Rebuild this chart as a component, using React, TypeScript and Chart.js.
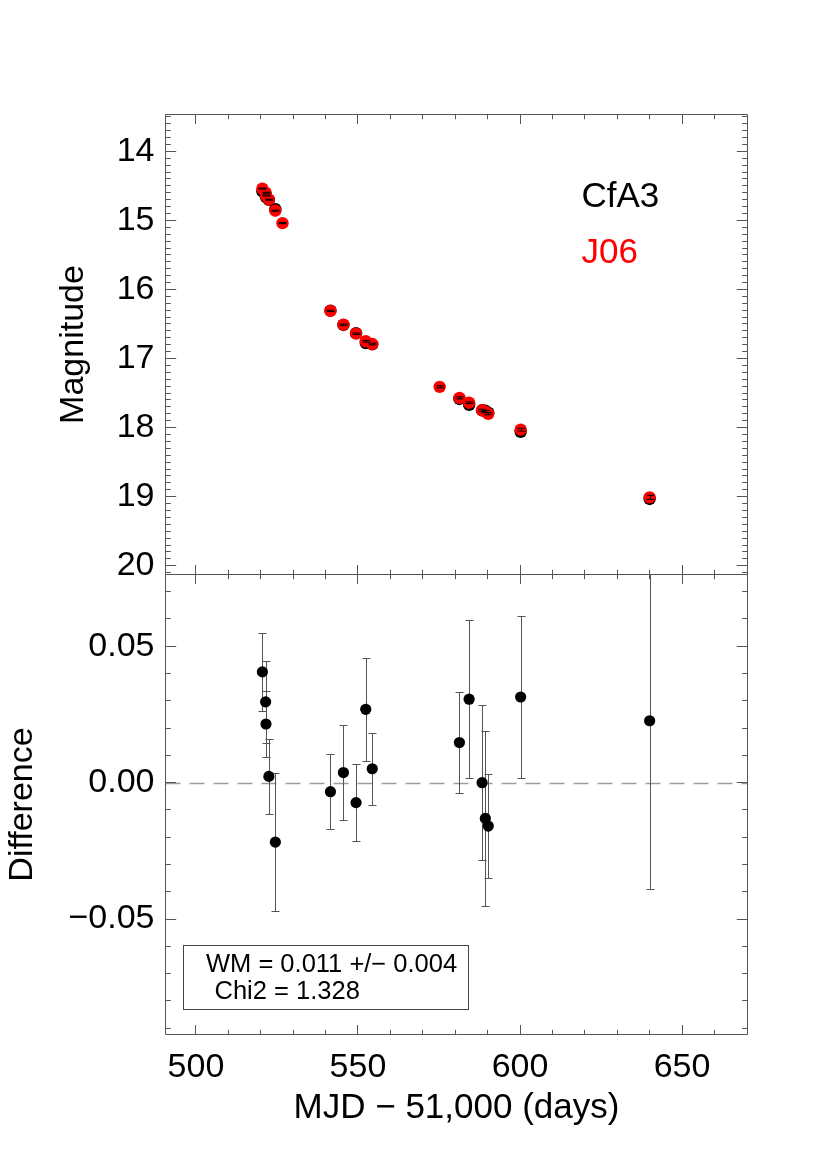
import React, { useEffect, useRef } from 'react';
import { Chart, registerables } from 'chart.js';

Chart.register(...registerables);

const FONT = '"Liberation Sans", Arial, Helvetica, sans-serif';
const AXIS_COLOR = '#555555';

// ---------- data ----------
const j06Mjd = [520.5, 521.5, 521.6, 522.5, 524.5, 526.7, 541.5, 545.5, 549.4, 552.4, 554.4, 575.2, 581.3, 584.3, 588.3, 589.3, 590.2, 600.2, 640.0];
const j06Mag = [14.54, 14.60, 14.64, 14.70, 14.86, 15.04, 16.31, 16.51, 16.64, 16.75, 16.79, 17.41, 17.57, 17.64, 17.75, 17.77, 17.80, 18.03, 19.01];
const j06Err = [0.008, 0.008, 0.008, 0.008, 0.008, 0.008, 0.010, 0.010, 0.010, 0.012, 0.012, 0.015, 0.015, 0.012, 0.015, 0.015, 0.015, 0.020, 0.030];

const cfa3Mjd = [520.5, 521.5, 521.6, 522.5, 524.5, 541.5, 545.5, 549.4, 552.4, 554.4, 581.3, 584.3, 588.3, 589.3, 590.2, 600.2, 640.0];
const cfa3Mag = [14.581, 14.630, 14.662, 14.702, 14.838, 16.307, 16.514, 16.633, 16.777, 16.795, 17.585, 17.671, 17.750, 17.757, 17.784, 18.061, 19.033];

const diffVal = [0.0406, 0.0296, 0.0215, 0.0023, -0.0218, -0.0033, 0.0037, -0.0073, 0.0269, 0.0051, 0.0147, 0.0306, 0.0000, -0.0131, -0.0159, 0.0314, 0.0227];
const diffErr = [0.0143, 0.0150, 0.0121, 0.0138, 0.0252, 0.0138, 0.0174, 0.0142, 0.0188, 0.0132, 0.0185, 0.0289, 0.0285, 0.0320, 0.0189, 0.0298, 0.0618];

const xTickValues = [500, 550, 600, 650];
const magTickValues = [14, 15, 16, 17, 18, 19, 20];
const diffTickValues = [-0.05, 0, 0.05];
const legendLabels = ['CfA3', 'J06'];
const legendColors = ['#000000', '#ff0000'];
const statsLines = ['WM = 0.011 +/\u2212 0.004', 'Chi2 = 1.328'];
const xTitle = 'MJD \u2212 51,000 (days)';

// ---------- helpers ----------
const X_MIN = 490.6;
const X_MAX = 670.2;

function fmtDiff(v: number) {
  if (Math.abs(v) < 1e-9) return '0.00';
  return (v < 0 ? '\u2212' : '') + Math.abs(v).toFixed(2);
}

function isMultiple(v: number, step: number) {
  const r = v / step;
  return Math.abs(r - Math.round(r)) < 1e-6;
}

function frameTicksPlugin(xMinor: number, xMajor: number, yMinor: number, yMajor: number) {
  return {
    id: 'frameTicks',
    afterDraw(chart: any) {
      const { ctx, chartArea: a, scales } = chart;
      const xs = scales.x;
      const ys = scales.y;
      ctx.save();
      ctx.strokeStyle = AXIS_COLOR;
      ctx.lineWidth = 1;
      ctx.beginPath();
      ctx.rect(a.left, a.top, a.right - a.left, a.bottom - a.top);
      ctx.stroke();
      ctx.beginPath();
      const x0 = Math.ceil(xs.min / xMinor - 1e-9);
      for (let i = x0; i * xMinor <= xs.max + 1e-9; i++) {
        const v = i * xMinor;
        const p = Math.floor(xs.getPixelForValue(v)) + 0.5;
        if (p <= a.left + 1 || p >= a.right - 1) continue;
        const len = isMultiple(v, xMajor) ? 9.5 : 4.7;
        ctx.moveTo(p, a.top);
        ctx.lineTo(p, a.top + len);
        ctx.moveTo(p, a.bottom);
        ctx.lineTo(p, a.bottom - len);
      }
      const y0 = Math.ceil(ys.min / yMinor - 1e-9);
      for (let i = y0; i * yMinor <= ys.max + 1e-9; i++) {
        const v = i * yMinor;
        const p = Math.floor(ys.getPixelForValue(v)) + 0.5;
        if (p <= a.top + 1 || p >= a.bottom - 1) continue;
        const len = isMultiple(v, yMajor) ? 10.7 : 5.3;
        ctx.moveTo(a.left, p);
        ctx.lineTo(a.left + len, p);
        ctx.moveTo(a.right, p);
        ctx.lineTo(a.right - len, p);
      }
      ctx.stroke();
      ctx.restore();
    },
  };
}

const topDecorPlugin = {
  id: 'topDecor',
  afterDatasetsDraw(chart: any) {
    const { ctx, chartArea: a, scales } = chart;
    const xs = scales.x;
    const ys = scales.y;
    ctx.save();
    ctx.beginPath();
    ctx.rect(a.left, a.top, a.right - a.left, a.bottom - a.top);
    ctx.clip();
    ctx.strokeStyle = '#000000';
    ctx.lineWidth = 1;
    ctx.beginPath();
    for (let i = 0; i < j06Mjd.length; i++) {
      const x = Math.round(xs.getPixelForValue(j06Mjd[i])) + 0.5;
      const yA = ys.getPixelForValue(j06Mag[i] - j06Err[i]);
      const yB = ys.getPixelForValue(j06Mag[i] + j06Err[i]);
      ctx.moveTo(x, yA);
      ctx.lineTo(x, yB);
      ctx.moveTo(x - 4, yA);
      ctx.lineTo(x + 4, yA);
      ctx.moveTo(x - 4, yB);
      ctx.lineTo(x + 4, yB);
    }
    ctx.stroke();
    ctx.restore();
  },
  afterDraw(chart: any) {
    const { ctx, chartArea: a } = chart;
    ctx.save();
    ctx.font = `35px ${FONT}`;
    ctx.textAlign = 'left';
    ctx.textBaseline = 'alphabetic';
    ctx.fillStyle = legendColors[0];
    ctx.fillText(legendLabels[0], a.left + 416, a.top + 92);
    ctx.fillStyle = legendColors[1];
    ctx.fillText(legendLabels[1], a.left + 416, a.top + 148);
    ctx.restore();
  },
};

const bottomDecorPlugin = {
  id: 'bottomDecor',
  beforeDatasetsDraw(chart: any) {
    const { ctx, chartArea: a, scales } = chart;
    const xs = scales.x;
    const ys = scales.y;
    ctx.save();
    ctx.beginPath();
    ctx.rect(a.left, a.top, a.right - a.left, a.bottom - a.top);
    ctx.clip();
    // zero line
    const y0 = Math.round(ys.getPixelForValue(0)) + 0.5;
    ctx.strokeStyle = '#9a9a9a';
    ctx.lineWidth = 1.6;
    ctx.setLineDash([15, 9]);
    ctx.beginPath();
    ctx.moveTo(a.left, y0);
    ctx.lineTo(a.right, y0);
    ctx.stroke();
    ctx.setLineDash([]);
    // error bars
    ctx.strokeStyle = '#555555';
    ctx.lineWidth = 1;
    ctx.beginPath();
    for (let i = 0; i < cfa3Mjd.length; i++) {
      const x = Math.round(xs.getPixelForValue(cfa3Mjd[i])) + 0.5;
      const yA = Math.round(ys.getPixelForValue(diffVal[i] + diffErr[i])) + 0.5;
      const yB = Math.round(ys.getPixelForValue(diffVal[i] - diffErr[i])) + 0.5;
      ctx.moveTo(x, yA);
      ctx.lineTo(x, yB);
      ctx.moveTo(x - 4, yA);
      ctx.lineTo(x + 4, yA);
      ctx.moveTo(x - 4, yB);
      ctx.lineTo(x + 4, yB);
    }
    ctx.stroke();
    ctx.restore();
  },
  afterDraw(chart: any) {
    const { ctx, chartArea: a } = chart;
    ctx.save();
    const bx = Math.round(a.left + 17) + 0.5;
    const by = Math.round(a.bottom - 89.5) + 0.5;
    ctx.strokeStyle = '#444444';
    ctx.lineWidth = 1;
    ctx.strokeRect(bx, by, 285, 64);
    ctx.fillStyle = '#000000';
    ctx.font = `25.5px ${FONT}`;
    ctx.textAlign = 'left';
    ctx.textBaseline = 'alphabetic';
    ctx.fillText(statsLines[0], a.left + 40.5, a.bottom - 62.5);
    ctx.fillText(statsLines[1], a.left + 49, a.bottom - 36);
    ctx.restore();
  },
};

function TwoPanelChart() {
  const topRef = useRef<HTMLCanvasElement | null>(null);
  const botRef = useRef<HTMLCanvasElement | null>(null);

  useEffect(() => {
    if (!topRef.current || !botRef.current) return;

    const tickFont = { size: 34, family: FONT };
    const yTitleFont = { size: 34, family: FONT };
    const xTitleFont = { size: 35, family: FONT };

    const topChart = new Chart(topRef.current, {
      type: 'scatter',
      data: {
        datasets: [
          {
            label: 'J06',
            data: j06Mjd.map((x, i) => ({ x, y: j06Mag[i] })),
            backgroundColor: '#ff0000',
            borderColor: '#ff0000',
            borderWidth: 0,
            pointRadius: 6.2,
            order: 0,
          },
          {
            label: 'CfA3',
            data: cfa3Mjd.map((x, i) => ({ x, y: cfa3Mag[i] })),
            backgroundColor: '#000000',
            borderColor: '#000000',
            borderWidth: 0,
            pointRadius: 6.2,
            order: 1,
          },
        ],
      },
      options: {
        animation: false,
        responsive: false,
        devicePixelRatio: 1,
        events: [],
        layout: { padding: { left: 0, right: 82.5, top: 114.5, bottom: 575.5 } },
        plugins: { legend: { display: false }, tooltip: { enabled: false } },
        scales: {
          x: {
            type: 'linear',
            min: X_MIN,
            max: X_MAX,
            grid: { display: false, drawTicks: false },
            border: { display: false },
            ticks: { display: false },
            afterBuildTicks: (s: any) => {
              s.ticks = xTickValues.map((v) => ({ value: v }));
            },
            afterFit: (s: any) => {
              s.height = 0;
            },
          },
          y: {
            type: 'linear',
            reverse: true,
            min: 13.467,
            max: 20.127,
            grid: { display: false, drawTicks: false },
            border: { display: false },
            ticks: {
              font: tickFont,
              color: '#000000',
              padding: 11,
              callback: (v: any) => String(v),
            },
            afterBuildTicks: (s: any) => {
              s.ticks = magTickValues.map((v) => ({ value: v }));
            },
            title: {
              display: true,
              text: 'Magnitude',
              font: yTitleFont,
              color: '#000000',
              padding: { top: 53, bottom: 0 },
            },
            afterFit: (s: any) => {
              s.width = 165.5;
            },
          },
        },
      } as any,
      plugins: [topDecorPlugin, frameTicksPlugin(10, 50, 0.1, 1)],
    });

    const botChart = new Chart(botRef.current, {
      type: 'scatter',
      data: {
        datasets: [
          {
            label: 'CfA3 - J06',
            data: cfa3Mjd.map((x, i) => ({ x, y: diffVal[i] })),
            backgroundColor: '#000000',
            borderColor: '#000000',
            borderWidth: 0,
            pointRadius: 5.6,
          },
        ],
      },
      options: {
        animation: false,
        responsive: false,
        devicePixelRatio: 1,
        events: [],
        layout: { padding: { left: 0, right: 82.5, top: 574.5, bottom: 0 } },
        plugins: { legend: { display: false }, tooltip: { enabled: false } },
        scales: {
          x: {
            type: 'linear',
            min: X_MIN,
            max: X_MAX,
            grid: { display: false, drawTicks: false },
            border: { display: false },
            ticks: {
              font: tickFont,
              color: '#000000',
              padding: 12.4,
              maxRotation: 0,
              callback: (v: any) => String(v),
            },
            afterBuildTicks: (s: any) => {
              s.ticks = xTickValues.map((v) => ({ value: v }));
            },
            title: {
              display: true,
              text: xTitle,
              font: xTitleFont,
              color: '#000000',
              padding: { top: 0, bottom: 21 },
            },
            afterFit: (s: any) => {
              s.height = 115.5;
            },
          },
          y: {
            type: 'linear',
            min: -0.0923,
            max: 0.0763,
            grid: { display: false, drawTicks: false },
            border: { display: false },
            ticks: {
              font: tickFont,
              color: '#000000',
              padding: 11,
              callback: (v: any) => fmtDiff(Number(v)),
            },
            afterBuildTicks: (s: any) => {
              s.ticks = diffTickValues.map((v) => ({ value: v }));
            },
            title: {
              display: true,
              text: 'Difference',
              font: yTitleFont,
              color: '#000000',
              padding: { top: 2, bottom: 0 },
            },
            afterFit: (s: any) => {
              s.width = 165.5;
            },
          },
        },
      } as any,
      plugins: [bottomDecorPlugin, frameTicksPlugin(10, 50, 0.01, 0.05)],
    });

    return () => {
      topChart.destroy();
      botChart.destroy();
    };
  }, []);

  const canvasStyle: React.CSSProperties = {
    position: 'absolute',
    left: 0,
    top: 0,
    width: 830,
    height: 1150,
  };

  return (
    <div style={{ position: 'absolute', left: 0, top: 0, width: 830, height: 1150, background: '#ffffff' }}>
      <canvas ref={topRef} width={830} height={1150} style={canvasStyle} />
      <canvas ref={botRef} width={830} height={1150} style={canvasStyle} />
    </div>
  );
}

export default function App() {
  return <TwoPanelChart />;
}
